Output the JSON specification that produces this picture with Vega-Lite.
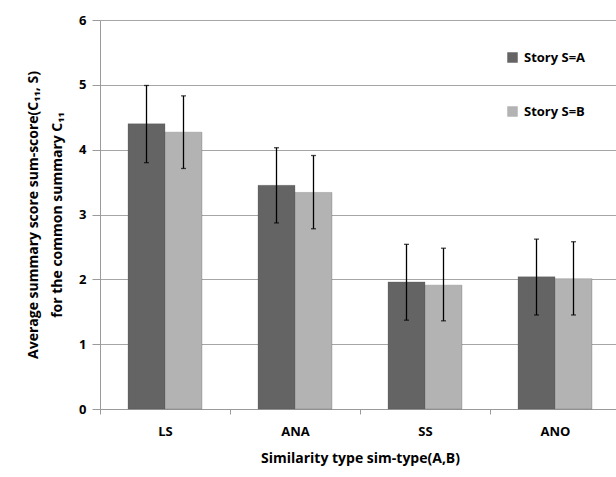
{
  "$schema": "https://vega.github.io/schema/vega-lite/v6.json",
  "autosize": "none",
  "width": 520,
  "height": 389,
  "padding": {"left": 100, "top": 20, "right": 0, "bottom": 68},
  "background": "white",
  "config": {
    "view": {"stroke": null},
    "font": "Open Sans",
    "axis": {"labelFont": "Open Sans", "titleFont": "Open Sans", "labelFontWeight": "bold", "titleFontWeight": "bold", "labelColor": "black", "titleColor": "black", "domainColor": "#9a9a9a", "tickColor": "#9a9a9a", "gridColor": "#a6a6a6"}
  },
  "data": {
    "values": [
      {"type": "LS", "story": "Story S=A", "mean": 4.40, "lo": 3.80, "hi": 4.99},
      {"type": "LS", "story": "Story S=B", "mean": 4.27, "lo": 3.71, "hi": 4.83},
      {"type": "ANA", "story": "Story S=A", "mean": 3.45, "lo": 2.87, "hi": 4.03},
      {"type": "ANA", "story": "Story S=B", "mean": 3.34, "lo": 2.78, "hi": 3.91},
      {"type": "SS", "story": "Story S=A", "mean": 1.96, "lo": 1.37, "hi": 2.54},
      {"type": "SS", "story": "Story S=B", "mean": 1.91, "lo": 1.36, "hi": 2.48},
      {"type": "ANO", "story": "Story S=A", "mean": 2.04, "lo": 1.45, "hi": 2.62},
      {"type": "ANO", "story": "Story S=B", "mean": 2.01, "lo": 1.45, "hi": 2.58}
    ]
  },
  "encoding": {
    "x": {
      "field": "type", "type": "nominal", "sort": ["LS", "ANA", "SS", "ANO"],
      "scale": {"paddingInner": 0, "paddingOuter": 0},
      "axis": {"title": "Similarity type sim-type(A,B)", "labelAngle": 0, "tickBand": "extent", "grid": false, "labelFontSize": 13, "titleFontSize": 14, "labelPadding": 11, "titlePadding": 13, "tickSize": 5}
    },
    "xOffset": {"field": "story", "type": "nominal", "scale": {"paddingInner": 0, "paddingOuter": 0.757}}
  },
  "layer": [
    {
      "mark": {"type": "bar", "stroke": "#505050", "strokeWidth": 0.5, "strokeOpacity": 0.5},
      "encoding": {
        "y": {
          "field": "mean", "type": "quantitative",
          "scale": {"domain": [0, 6]},
          "axis": {"title": ["Average summary score sum-score(C₁₁, S)", "for the common summary C₁₁"], "values": [0, 1, 2, 3, 4, 5, 6], "format": "d", "labelFontSize": 13, "titleFontSize": 14, "tickSize": 8, "labelPadding": 6, "titlePadding": 14, "titleLineHeight": 24}
        },
        "color": {
          "field": "story", "type": "nominal",
          "scale": {"range": ["#646464", "#b3b3b3"]},
          "legend": {"title": null, "orient": "none", "legendX": 406, "legendY": 31, "symbolType": "square", "symbolSize": 110, "symbolStrokeWidth": 0, "labelFontSize": 13, "labelFontWeight": "bold", "labelFont": "Open Sans", "labelColor": "black", "rowPadding": 40, "labelOffset": 5}
        }
      }
    },
    {
      "mark": {"type": "rule", "color": "black", "strokeWidth": 1.3},
      "encoding": {"y": {"field": "lo", "type": "quantitative"}, "y2": {"field": "hi"}}
    },
    {
      "mark": {"type": "tick", "color": "black", "thickness": 1.3, "size": 5},
      "encoding": {"y": {"field": "lo", "type": "quantitative"}}
    },
    {
      "mark": {"type": "tick", "color": "black", "thickness": 1.3, "size": 5},
      "encoding": {"y": {"field": "hi", "type": "quantitative"}}
    }
  ]
}
